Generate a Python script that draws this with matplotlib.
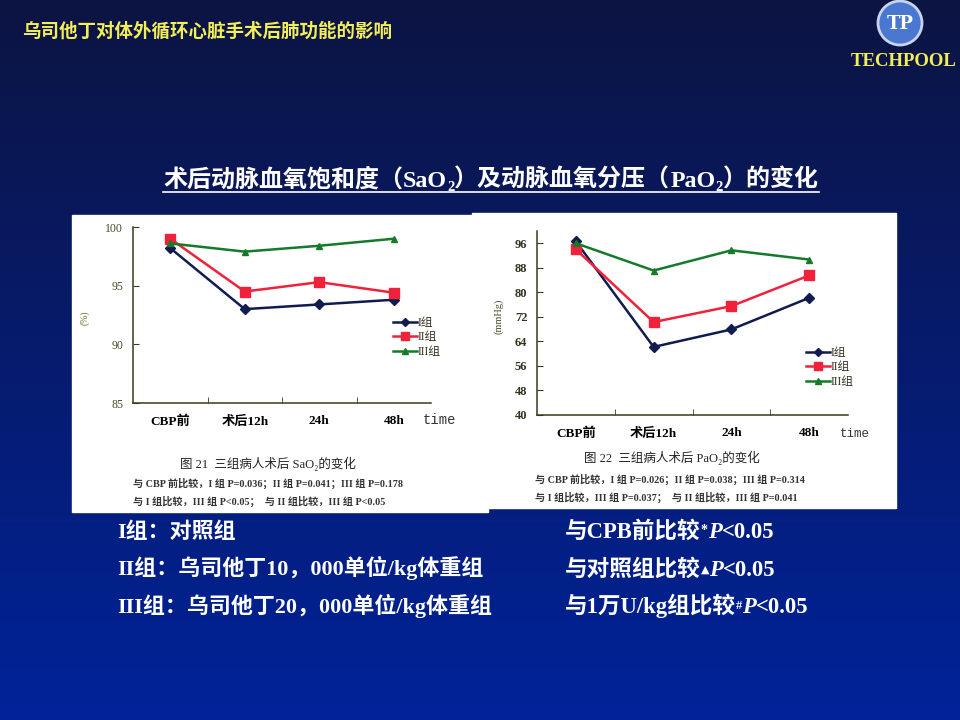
import numpy as np
import matplotlib
matplotlib.use("Agg")
import matplotlib.pyplot as plt
from matplotlib.patches import Rectangle, Ellipse
from matplotlib.lines import Line2D

W, H = 960, 720

times = ["CBP前", "术后12h", "24h", "48h"]
groups = ["I组", "II组", "III组"]
sao2_I = [98.2, 93.0, 93.4, 93.8]
sao2_II = [99.0, 94.5, 95.3, 94.4]
sao2_III = [98.6, 97.9, 98.4, 99.0]
pao2_I = [96.6, 62.2, 67.9, 78.2]
pao2_II = [94.0, 70.3, 75.5, 85.5]
pao2_III = [96.0, 87.1, 93.7, 90.7]
sao2_ticks = [85, 90, 95, 100]
pao2_ticks = [40, 48, 56, 64, 72, 80, 88, 96]

SERIF = ["Liberation Serif", "Noto Sans CJK SC", "DejaVu Sans"]
CJK = ["Noto Sans CJK SC", "Liberation Serif", "DejaVu Sans"]
colors = ["#101c50", "#f0213a", "#157a2a"]
markers = ["D", "s", "^"]
msizes = [5, 7, 5]


def fx(x):
    return x / W


def fy(y):
    return 1 - y / H


fig = plt.figure(figsize=(9.6, 7.2), dpi=100)

# Fond dégradé
bg = fig.add_axes([0, 0, 1, 1])
top = np.array([12, 20, 66]) / 255
bot = np.array([1, 35, 154]) / 255
t = np.linspace(0, 1, 256)[:, None]
grad = top * (1 - t) + bot * t
bg.imshow(grad[:, None, :], aspect="auto", extent=[0, 1, 0, 1])
bg.axis("off")

# Panneaux blancs des figures scannées
fig.patches.append(Rectangle((fx(72), fy(512)), fx(488 - 72), (512 - 215) / H,
                             transform=fig.transFigure, color="white", zorder=1))
fig.patches.append(Rectangle((fx(472), fy(508)), fx(896 - 472), (508 - 213) / H,
                             transform=fig.transFigure, color="white", zorder=1))

renderer = fig.canvas.get_renderer()


def run(x, y, pieces, **common):
    # écrit plusieurs morceaux de texte à la suite sur une même ligne de base
    for s, kw in pieces:
        opts = dict(common)
        opts.update(kw)
        dy = opts.pop("dy", 0)
        txt = fig.text(fx(x), fy(y + dy), s, va="baseline", ha="left", **opts)
        x += txt.get_window_extent(renderer).width
    return x


def chart(rect, series, ylim, yticks, tick_kw, leg_xy):
    ax = fig.add_axes(rect)
    ax.set_zorder(2)
    ax.patch.set_alpha(0)
    x = np.arange(len(times))
    for vals, lab, c, m, ms in zip(series, groups, colors, markers, msizes):
        ax.plot(x, vals, color=c, marker=m, ms=ms, lw=1.8, label=lab)
    ax.set_xlim(-0.5, 3.5)
    ax.set_ylim(*ylim)
    ax.set_yticks(yticks)
    ax.set_xticks(x)
    ax.set_xticklabels(times, fontdict={"family": SERIF, "weight": "bold", "size": 9.5})
    ax.set_xticks([0.5, 1.5, 2.5], minor=True)
    ax.tick_params(axis="x", which="major", length=0, pad=9)
    ax.tick_params(axis="x", which="minor", direction="in", length=4, color="#3a3a1a")
    ax.tick_params(axis="y", direction="in", length=4, color="#3a3a1a", pad=7)
    for lbl in ax.get_yticklabels():
        lbl.set(**tick_kw)
    for s in ["top", "right"]:
        ax.spines[s].set_visible(False)
    for s in ["left", "bottom"]:
        ax.spines[s].set_color("#3a3a1a")
        ax.spines[s].set_linewidth(1.1)
    ax.legend(loc="upper left", bbox_to_anchor=(fx(leg_xy[0]), fy(leg_xy[1])),
              bbox_transform=fig.transFigure, frameon=False,
              prop={"family": SERIF, "size": 8.5}, labelcolor="#333320",
              handlelength=2.0, handletextpad=0.1, labelspacing=0.2,
              borderaxespad=0, borderpad=0, markerscale=0.8)
    return ax


chart([fx(133), fy(403), fx(431 - 133), (403 - 227) / H],
      [sao2_I, sao2_II, sao2_III], (85, 100), sao2_ticks,
      {"family": SERIF, "size": 8.5, "color": "#4a4a25"}, (393, 317))
chart([fx(537), fy(415), fx(848 - 537), (415 - 231) / H],
      [pao2_I, pao2_II, pao2_III], (40, 100), pao2_ticks,
      {"family": SERIF, "size": 9, "weight": "bold", "color": "#333320"}, (806, 347))

# Étiquettes des axes
fig.text(fx(85), fy(318), "(%)", rotation=90, ha="center", va="center",
         family=SERIF, size=7, color="#5a7a2a")
fig.text(fx(499), fy(316), "(mmHg)", rotation=90, ha="center", va="center",
         family=SERIF, size=7.5, color="#4a4a25")
fig.text(fx(439), fy(420), "time", ha="center", va="center",
         family="Liberation Mono", size=10, color="#333333")
fig.text(fx(855), fy(434), "time", ha="center", va="center",
         family="Liberation Mono", size=9, color="#333333")

# Légendes des figures
fig.text(fx(268), fy(464), "图 21  三组病人术后 SaO₂的变化", ha="center", va="center",
         family=SERIF, size=9, color="#222222")
fig.text(fx(133), fy(483), "与 CBP 前比较，I 组 P=0.036；II 组 P=0.041；III 组 P=0.178",
         ha="left", va="center", family=SERIF, size=7.3, weight="bold", color="#333333")
fig.text(fx(133), fy(501), "与 I 组比较，III 组 P<0.05；  与 II 组比较，III 组 P<0.05",
         ha="left", va="center", family=SERIF, size=7.3, weight="bold", color="#333333")
fig.text(fx(672), fy(458), "图 22  三组病人术后 PaO₂的变化", ha="center", va="center",
         family=SERIF, size=9, color="#222222")
fig.text(fx(535), fy(479), "与 CBP 前比较，I 组 P=0.026；II 组 P=0.038；III 组 P=0.314",
         ha="left", va="center", family=SERIF, size=7.3, weight="bold", color="#333333")
fig.text(fx(535), fy(497), "与 I 组比较，III 组 P=0.037；  与 II 组比较，III 组 P=0.041",
         ha="left", va="center", family=SERIF, size=7.3, weight="bold", color="#333333")

# En-tête
fig.text(fx(22), fy(31), "乌司他丁对体外循环心脏手术后肺功能的影响", ha="left", va="center",
         family=CJK, size=13.3, weight="bold", color="#f2ee5a")
fig.patches.append(Ellipse((fx(900), fy(23)), 44 / W, 44 / H, transform=fig.transFigure,
                           facecolor="#4a78d0", edgecolor="#c8d4ee", lw=2, zorder=2))
fig.text(fx(900), fy(24), "TP", ha="center", va="center", family="DejaVu Serif",
         size=13, weight="bold", color="white")
fig.text(fx(904), fy(62), "TECHPOOL", ha="center", va="center", family="Liberation Serif",
         size=13.5, weight="bold", color="#f2ee5a")

# Titre souligné
big = {"family": CJK, "size": 17.3, "weight": "bold", "color": "white"}
lat = {"family": SERIF, "size": 17.3, "weight": "bold", "color": "white"}
sub = {"family": SERIF, "size": 10.5, "weight": "bold", "color": "white", "dy": 4}
x_end = run(163, 187, [("术后动脉血氧饱和度（", big), ("SaO", lat), ("2", sub),
                       ("）及动脉血氧分压（", big), ("PaO", lat), ("2", sub),
                       ("）的变化", big)])
fig.lines.append(Line2D([fx(163), fx(x_end)], [fy(192), fy(192)],
                        transform=fig.transFigure, color="white", lw=1.2))

# Texte du bas
body = {"family": SERIF, "size": 15.8, "weight": "bold", "color": "white"}
left_lines = ["I组：对照组", "II组：乌司他丁10，000单位/kg体重组", "III组：乌司他丁20，000单位/kg体重组"]
for i, s in enumerate(left_lines):
    fig.text(fx(117), fy(538 + 37.5 * i), s, ha="left", va="baseline", **body)

right = dict(body, size=16.3)
ital = {"style": "italic"}
run(565, 538, [("与CPB前比较", {}), ("*", {"size": 10, "dy": -4}), ("P", ital), ("<0.05", {})], **right)
run(565, 576, [("与对照组比较", {}), ("▲", {"size": 8, "dy": -3, "family": "DejaVu Sans"}),
               ("P", ital), ("<0.05", {})], **right)
run(565, 613, [("与1万U/kg组比较", {}), ("#", {"size": 9, "dy": -4}), ("P", ital), ("<0.05", {})], **right)

fig.savefig("out.png", dpi=100)
